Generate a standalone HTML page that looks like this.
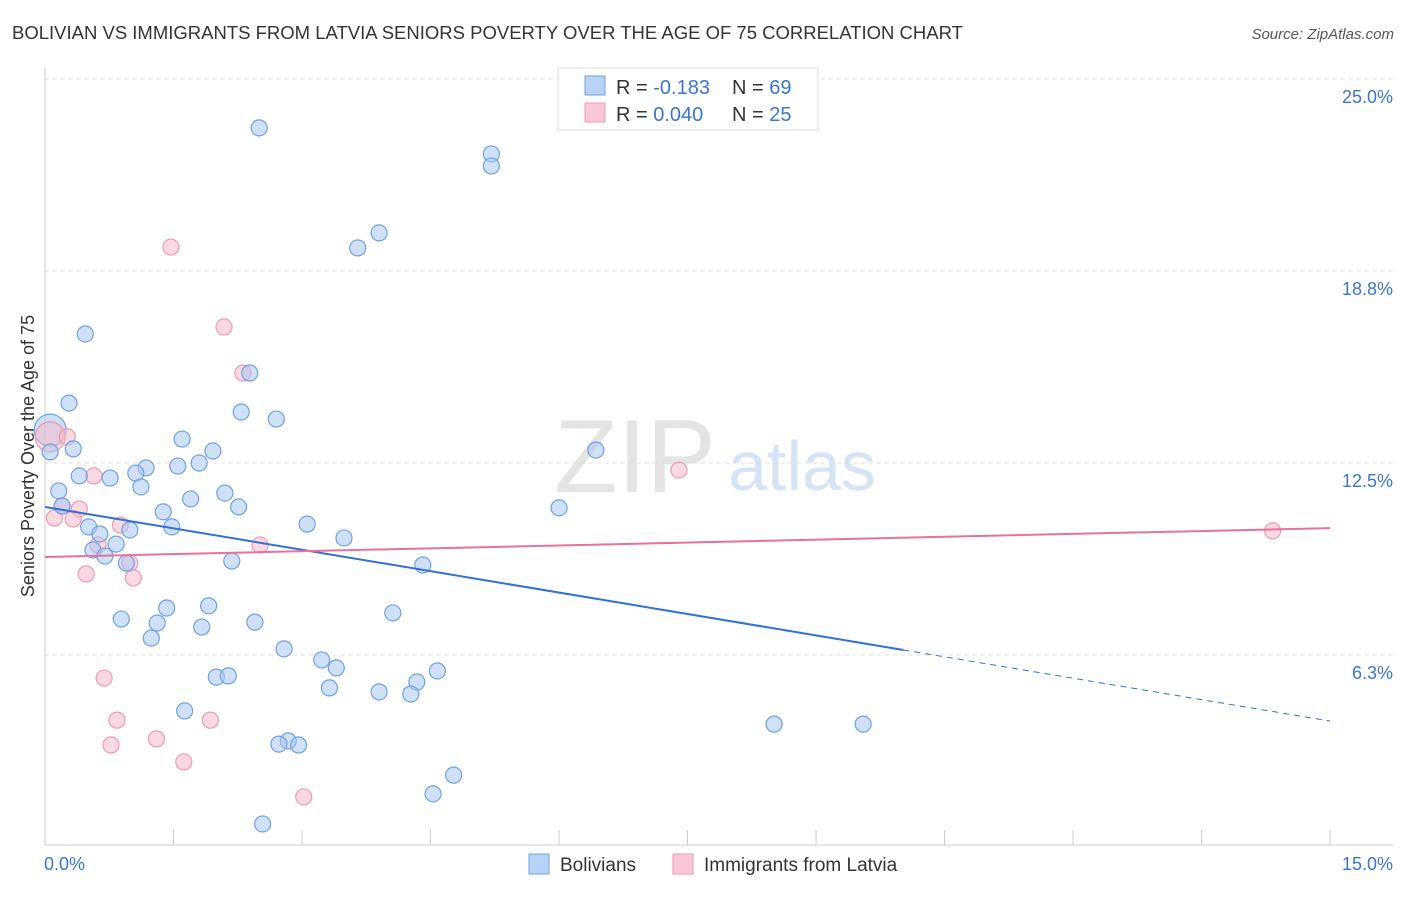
<!DOCTYPE html>
<html><head><meta charset="utf-8"><style>
body{margin:0;background:#fff;font-family:"Liberation Sans",sans-serif}
svg text{font-family:"Liberation Sans",sans-serif}
</style></head><body>
<svg id="c" width="1406" height="892">
<text x="12" y="39" font-size="18.5" fill="#333">BOLIVIAN VS IMMIGRANTS FROM LATVIA SENIORS POVERTY OVER THE AGE OF 75 CORRELATION CHART</text>
<text x="1394" y="39" font-size="15" fill="#555" font-style="italic" text-anchor="end">Source: ZipAtlas.com</text>
<text x="635" y="492" font-size="104" fill="#e4e4e4" font-family="Liberation Serif" text-anchor="middle">ZIP</text>
<text x="802" y="490" font-size="70" fill="#d6e4f5" text-anchor="middle">atlas</text>
<text transform="translate(34,456) rotate(-90)" font-size="18" fill="#333" text-anchor="middle">Seniors Poverty Over the Age of 75</text>
<g id="grid"></g><g id="marks"></g>
<g>
<rect x="558" y="68" width="260" height="62" fill="#fff" stroke="#ddd"/>
<rect x="585" y="76" width="20" height="19" fill="#b8d3f5" stroke="#6fa0e0"/>
<rect x="585" y="103" width="20" height="19" fill="#fac8d6" stroke="#eb9ab2"/>
<text x="616" y="94" font-size="20" fill="#333">R = <tspan fill="#3a74d0">-0.183</tspan></text>
<text x="732" y="94" font-size="20" fill="#333">N = <tspan fill="#3a74d0">69</tspan></text>
<text x="616" y="121" font-size="20" fill="#333">R = <tspan fill="#3a74d0">0.040</tspan></text>
<text x="732" y="121" font-size="20" fill="#333">N = <tspan fill="#3a74d0">25</tspan></text>
</g>
<g>
<rect x="529" y="854" width="20" height="20" fill="#b8d3f5" stroke="#6fa0e0"/>
<text x="560" y="871" font-size="19" fill="#333">Bolivians</text>
<rect x="673" y="854" width="20" height="20" fill="#fac8d6" stroke="#eb9ab2"/>
<text x="704" y="871" font-size="19" fill="#333">Immigrants from Latvia</text>
</g>
</svg>
<script>
const yTicks=[25,18.75,12.5,6.25];
const yTickLabels=["25.0%","18.8%","12.5%","6.3%"];
const xTickLabels=["0.0%","15.0%"];
const blueX=[2.50,5.21,5.21,3.90,3.65,0.47,2.39,0.28,2.29,2.70,1.60,0.33,1.96,6.43,0.06,1.80,1.55,1.18,1.06,0.76,0.40,1.12,0.16,2.10,1.70,0.20,2.26,6.00,1.38,0.51,3.06,1.48,0.64,0.99,3.49,0.83,0.56,0.70,2.18,0.95,4.41,1.42,1.91,4.06,0.89,1.31,2.45,1.83,1.24,2.79,3.23,3.40,4.58,2.00,2.14,3.32,3.90,4.34,4.27,1.63,8.51,9.55,2.84,2.73,2.96,4.77,4.53,2.54];
const blueY=[23.41,22.56,22.17,19.99,19.50,16.70,15.43,14.45,14.16,13.93,13.28,12.96,12.89,12.92,12.86,12.50,12.40,12.34,12.17,12.01,12.08,11.72,11.59,11.52,11.33,11.10,11.07,11.04,10.91,10.42,10.51,10.42,10.19,10.32,10.06,9.86,9.67,9.47,9.31,9.24,9.18,7.78,7.85,7.62,7.42,7.29,7.32,7.16,6.80,6.45,6.09,5.83,5.73,5.53,5.57,5.18,5.05,5.37,4.98,4.43,4.00,4.00,3.45,3.35,3.32,2.34,1.73,0.75];
const pinkX=[1.47,2.09,2.31,0.26,0.57,0.20,0.40,0.11,0.33,0.88,2.51,0.62,0.99,0.48,1.03,7.40,14.33,0.69,0.84,1.93,0.77,1.30,1.62,3.02];
const pinkY=[19.53,16.93,15.43,13.35,12.08,11.10,11.00,10.71,10.68,10.48,9.83,9.83,9.24,8.89,8.76,12.27,10.29,5.50,4.13,4.13,3.32,3.52,2.77,1.63];
const bigBlue=[0.06,13.57], bigPink=[0.06,13.35];
const blueTrend=[11.07,4.10], blueSolidEnd=10.02, pinkTrend=[9.44,10.38];
const X=v=>45+v*85.67, Y=v=>847-v*30.72;
const NS="http://www.w3.org/2000/svg";
function mk(t,a,p){const e=document.createElementNS(NS,t);for(const k in a)e.setAttribute(k,a[k]);p.appendChild(e);return e;}
const g=document.getElementById('grid'), m=document.getElementById('marks');
yTicks.forEach((t,i)=>{
 const l=mk('line',{x1:45,x2:1393,y1:Y(t),y2:Y(t),stroke:'#ddd','stroke-dasharray':'4,4'},g);
 
 
 const tx=mk('text',{x:1393,y:Y(t)+24,'font-size':18,fill:'#3a74d0','text-anchor':'end'},g);tx.textContent=yTickLabels[i];
 
 
});
mk('line',{x1:45,x2:45,y1:68,y2:845,stroke:'#ccc'},g);
mk('line',{x1:45,x2:1393,y1:845,y2:845,stroke:'#ccc'},g);
for(let i=1;i<=10;i++){const t=mk('line',{x1:X(i*1.5),x2:X(i*1.5),y1:830,y2:845,stroke:'#ccc'},g);
 
 }
[[X(0)-1,'start',0],[1393,'end',1]].forEach(([x,a,i])=>{const t=mk('text',{x:x,y:870,'font-size':18,fill:'#3a74d0','text-anchor':a},g);t.textContent=xTickLabels[i];
 
 });
function dot(x,y,r,f,s,n){const c=mk('circle',{cx:X(x),cy:Y(y),r:r,fill:f,'fill-opacity':0.55,stroke:s,'stroke-width':1.2},m);
 
 }
dot(bigBlue[0],bigBlue[1],16,'#a9c8f0','#6fa0e0','bolivian-point-large');
dot(bigPink[0],bigPink[1],15,'#f6b9cb','#eb9ab2','latvia-point-large');
pinkX.forEach((x,i)=>dot(x,pinkY[i],8,'#f6b9cb','#eb9ab2','latvia-point'));
blueX.forEach((x,i)=>dot(x,blueY[i],8,'#a9c8f0','#6fa0e0','bolivian-point'));
const by=x=>blueTrend[0]+(blueTrend[1]-blueTrend[0])*x/15;
let l=mk('line',{x1:X(0),y1:Y(by(0)),x2:X(blueSolidEnd),y2:Y(by(blueSolidEnd)),stroke:'#2f6fd6','stroke-width':2},m);


l=mk('line',{x1:X(blueSolidEnd),y1:Y(by(blueSolidEnd)),x2:X(15),y2:Y(by(15)),stroke:'#2f6fd6','stroke-width':1,'stroke-dasharray':'6,5'},m);


l=mk('line',{x1:X(0),y1:Y(pinkTrend[0]),x2:X(15),y2:Y(pinkTrend[1]),stroke:'#e8709a','stroke-width':2},m);


</script>
</body></html>
